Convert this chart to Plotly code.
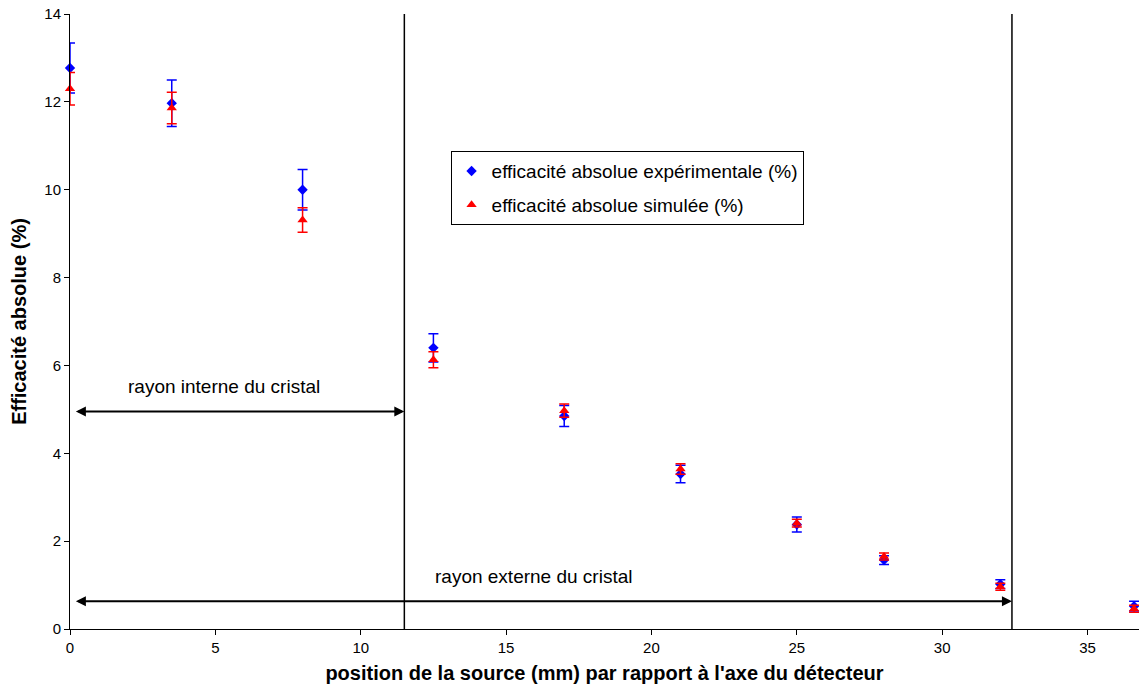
import plotly.graph_objects as go

# ---- data ----
positions = [0, 3.5, 8, 12.5, 17, 21, 25, 28, 32, 36.6]
eff_exp = [12.77, 11.97, 10.0, 6.40, 4.85, 3.53, 2.38, 1.57, 1.02, 0.52]
eff_exp_err = [0.57, 0.53, 0.46, 0.32, 0.24, 0.20, 0.17, 0.10, 0.10, 0.11]
eff_sim = [12.30, 11.86, 9.31, 6.13, 4.97, 3.64, 2.41, 1.65, 0.96, 0.46]
eff_sim_err = [0.37, 0.36, 0.28, 0.18, 0.15, 0.12, 0.09, 0.08, 0.08, 0.08]

x_ticks = [0, 5, 10, 15, 20, 25, 30, 35]
y_ticks = [0, 2, 4, 6, 8, 10, 12, 14]

R_INT = 11.5   # rayon interne du cristal (mm)
R_EXT = 32.4   # rayon externe du cristal (mm)
Y_ARROW_INT = 4.95
Y_ARROW_EXT = 0.63

FONT = "Liberation Sans, Arial, sans-serif"

fig = go.Figure()
fig.add_trace(go.Scatter(
    x=positions, y=eff_exp, mode="markers",
    name="efficacité absolue expérimentale (%)",
    legendgroup="a",
    marker=dict(symbol="diamond", size=8, color="#0000FF"),
    error_y=dict(type="data", array=eff_exp_err, color="#0000FF", thickness=1.5, width=5),
    cliponaxis=False,
))
fig.add_trace(go.Scatter(
    x=positions, y=eff_sim, mode="markers",
    name="efficacité absolue simulée (%)",
    legendgroup="b",
    marker=dict(symbol="triangle-up", size=9, color="#FF0000"),
    error_y=dict(type="data", array=eff_sim_err, color="#FF0000", thickness=1.5, width=5),
    cliponaxis=False,
))

for xv in (R_INT, R_EXT):
    fig.add_shape(type="line", xref="x", yref="paper", x0=xv, x1=xv, y0=0, y1=1,
                  line=dict(color="black", width=1.5))

for x_end, y_arr in ((R_INT, Y_ARROW_INT), (R_EXT, Y_ARROW_EXT)):
    fig.add_annotation(x=x_end, y=y_arr, ax=0.15, ay=y_arr, xref="x", yref="y",
                       axref="x", ayref="y", text="", showarrow=True,
                       arrowhead=2, startarrowhead=2, arrowside="end+start",
                       arrowsize=1, arrowwidth=2, arrowcolor="black", standoff=0, startstandoff=0)

fig.add_annotation(x=5.3, y=5.52, xref="x", yref="y", text="rayon interne du cristal",
                   showarrow=False, font=dict(family=FONT, size=19, color="black"))
fig.add_annotation(x=15.95, y=1.2, xref="x", yref="y", text="rayon externe du cristal",
                   showarrow=False, font=dict(family=FONT, size=19, color="black"))

fig.update_layout(
    width=1139, height=697,
    margin=dict(l=70, r=0, t=14, b=68),
    paper_bgcolor="white", plot_bgcolor="white",
    font=dict(family=FONT, size=15, color="black"),
    showlegend=True,
    legend=dict(x=0.356, y=0.777, xanchor="left", yanchor="top",
                bordercolor="black", borderwidth=1, bgcolor="white",
                font=dict(family=FONT, size=19, color="black"),
                traceorder="grouped", tracegroupgap=6),
    xaxis=dict(range=[0, 36.77], tickvals=x_ticks, automargin=False,
               showline=True, linecolor="black", linewidth=1,
               ticks="outside", ticklen=5, tickcolor="black",
               showgrid=False, zeroline=False, ticklabeloverflow="allow",
               tickfont=dict(family=FONT, size=15),
               title=dict(text="<b>position de la source (mm) par rapport à l'axe du détecteur</b>",
                          font=dict(family=FONT, size=20), standoff=10)),
    yaxis=dict(range=[0, 14], tickvals=y_ticks, automargin=False,
               showline=True, linecolor="black", linewidth=1,
               ticks="outside", ticklen=5, tickcolor="black",
               showgrid=False, zeroline=False, ticklabeloverflow="allow",
               tickfont=dict(family=FONT, size=15),
               title=dict(text="<b>Efficacité absolue (%)</b>",
                          font=dict(family=FONT, size=20), standoff=12)),
)

fig.write_html(
    "out.html",
    config={"displayModeBar": False},
    post_script="document.body.style.margin='0';document.body.style.overflow='hidden';",
)
